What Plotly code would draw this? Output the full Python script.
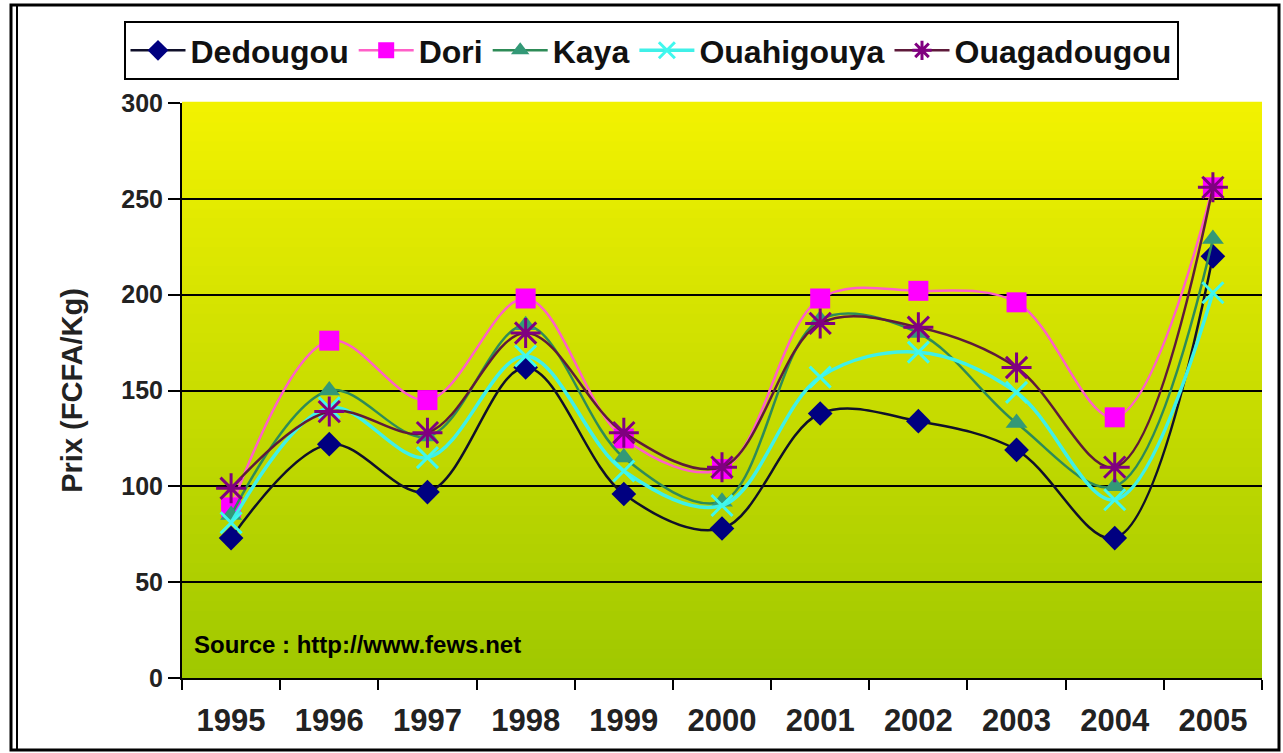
import plotly.graph_objects as go

years = ["1995", "1996", "1997", "1998", "1999", "2000", "2001", "2002", "2003", "2004", "2005"]
dedougou = [73, 122, 97, 162, 96, 78, 138, 134, 119, 73, 220]
dori = [89, 176, 145, 198, 125, 109, 198, 202, 196, 136, 256]
kaya = [85, 150, 126, 184, 115, 92, 187, 180, 133, 100, 229]
ouahigouya = [81, 141, 115, 168, 108, 90, 157, 170, 149, 93, 201]
ouagadougou = [99, 139, 128, 180, 128, 110, 185, 183, 162, 110, 256]

series = [
    ("Dedougou", dedougou, "#10102a", "#000080", "diamond", 19, 2.5),
    ("Dori", dori, "#ff5fc8", "#ff00ff", "square", 20, 2.5),
    ("Kaya", kaya, "#2e8b57", "#339977", "triangle-up", 19, 2.5),
    ("Ouahigouya", ouahigouya, "#40f0e8", "#40f8ee", "x-thin-open", 21, 3.5),
    ("Ouagadougou", ouagadougou, "#5e1a3a", "#800080", "asterisk-open", 25, 2.5),
]

fig = go.Figure()

# gradient background bands
n = 60
top = (242, 242, 0)
bot = (160, 200, 0)
shapes = []
for i in range(n):
    t = i / (n - 1)
    c = tuple(round(bot[k] + (top[k] - bot[k]) * t) for k in range(3))
    shapes.append(dict(type="rect", xref="x domain", yref="y domain",
                       x0=0, x1=1, y0=i / n, y1=(i + 1) / n + 0.002,
                       fillcolor="rgb(%d,%d,%d)" % c, line=dict(width=0), layer="below"))


def px_x(p):
    return (p - 182) / 1080.0


def px_y(p):
    return (678 - p) / 575.0


# outer frame
shapes.append(dict(type="rect", xref="paper", yref="paper",
                   x0=px_x(11), x1=px_x(1279), y0=px_y(750), y1=px_y(5),
                   line=dict(color="black", width=3), fillcolor="rgba(0,0,0,0)"))
shapes.append(dict(type="line", xref="paper", yref="paper",
                   x0=px_x(17), x1=px_x(17), y0=px_y(750), y1=px_y(5),
                   line=dict(color="black", width=2)))

for name, vals, lc, mc, sym, sz, lw in series:
    open_sym = sym.endswith("open")
    fig.add_trace(go.Scatter(
        x=years, y=vals, name=name, mode="lines+markers",
        line=dict(color=lc, width=lw, shape="spline", smoothing=1),
        marker=dict(symbol=sym, size=sz, color=mc,
                    line=dict(color=mc, width=3 if open_sym else 0)),
    ))

fig.update_layout(
    width=1283, height=753,
    margin=dict(l=182, r=21, t=103, b=75),
    paper_bgcolor="white",
    plot_bgcolor="rgba(0,0,0,0)",
    font=dict(family="Liberation Sans, Arial, sans-serif", color="#222"),
    shapes=shapes,
    showlegend=True,
    legend=dict(
        orientation="h", x=px_x(651), xanchor="center", y=px_y(21), yanchor="top",
        bgcolor="white", bordercolor="black", borderwidth=2,
        font=dict(size=32, color="#111", family="Liberation Sans, Arial, sans-serif", weight="bold"),
        itemwidth=55,
    ),
    annotations=[dict(
        text="<b>Source : http://www.fews.net</b>", xref="paper", yref="paper",
        x=px_x(192), y=px_y(644), xanchor="left", yanchor="middle", showarrow=False,
        font=dict(size=24, color="black"),
    )],
)

fig.update_xaxes(
    type="category", range=[-0.5, 10.5], showgrid=False, showline=True, linecolor="black", linewidth=2,
    ticks="outside", tickson="boundaries", ticklen=10, tickwidth=2, tickcolor="black",
    tickfont=dict(size=31, color="#222", weight="bold"), ticklabelstandoff=14, mirror=False,
)
fig.update_yaxes(
    range=[0, 300], dtick=50, showgrid=True, gridcolor="black", gridwidth=2,
    showline=True, linecolor="black", linewidth=2, zeroline=False,
    ticks="outside", ticklen=12, tickwidth=2, tickcolor="black",
    tickfont=dict(size=25, color="#222", weight="bold"),
    title=dict(text="Prix (FCFA/Kg)", font=dict(size=29, color="#222", weight="bold"), standoff=30),
)

fig.write_html("out.html", config={"displayModeBar": False},
               post_script="document.body.style.margin='0';document.body.style.overflow='hidden';")
